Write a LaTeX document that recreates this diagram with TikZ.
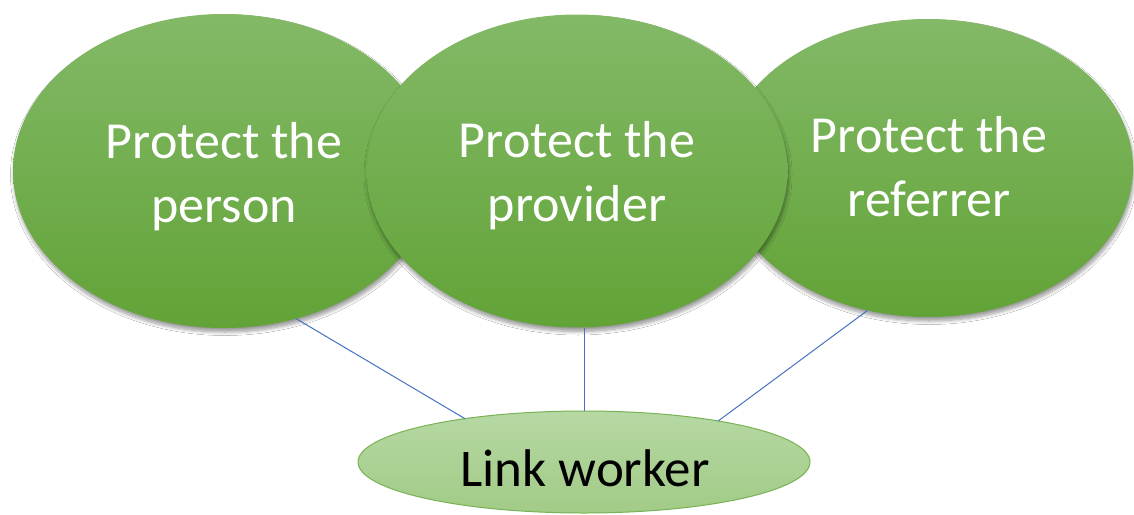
\documentclass[tikz,border=0pt]{standalone}
\usepackage{fontspec}
\setmainfont{Carlito}
\usetikzlibrary{shapes.geometric,shadows.blur}
\definecolor{gtop}{HTML}{83B967}
\definecolor{gbot}{HTML}{62A337}
\definecolor{ltop}{HTML}{B7D8A4}
\definecolor{lbot}{HTML}{A1CB86}
\definecolor{ledge}{HTML}{78B254}
\definecolor{conn}{HTML}{4472C4}
\tikzset{
  bigell/.style={ellipse, inner sep=0pt, outer sep=0pt, top color=gtop, bottom color=gbot, draw=none,
    blur shadow={shadow xshift=1pt, shadow yshift=-4pt, shadow blur radius=3.5pt, shadow blur steps=8, shadow opacity=40}},
  linkell/.style={ellipse, inner sep=0pt, outer sep=0pt, top color=ltop, bottom color=lbot, draw=ledge, line width=1pt},
  gtxt/.style={text=white, align=center, inner sep=0pt, font=\fontsize{52}{64}\selectfont},
  ltxt/.style={text=black, inner sep=0pt, font=\fontsize{53}{64}\selectfont},
  conline/.style={draw=conn, line width=1pt}
}
\begin{document}
\begin{tikzpicture}[x=1pt,y=-1pt]
\useasboundingbox (0,0) rectangle (1134,514);
\fill[white] (0,0) rectangle (1134,514);
\node[bigell, minimum width=422pt, minimum height=314pt] (left) at (224,171) {};
\node[bigell, minimum width=410pt, minimum height=298pt] (right) at (928,168) {};
\node[bigell, minimum width=421pt, minimum height=313pt] (mid) at (577,171) {};
\node[linkell, minimum width=452pt, minimum height=102pt] (link) at (584,462) {};
\node[gtxt] (lefttxt) at (224,177) {Protect the\\person};
\node[gtxt] (midtxt) at (577,176) {Protect the\\provider};
\node[gtxt] (righttxt) at (929,167) {Protect the\\referrer};
\node[ltxt] (linktxt) at (585,468) {Link worker};
\draw[conline] (left.-64) -- (link.160);
\draw[conline] (link.north |- mid.south) -- (link.north);
\draw[conline] (right.-113) -- (link.17);
\end{tikzpicture}
\end{document}
